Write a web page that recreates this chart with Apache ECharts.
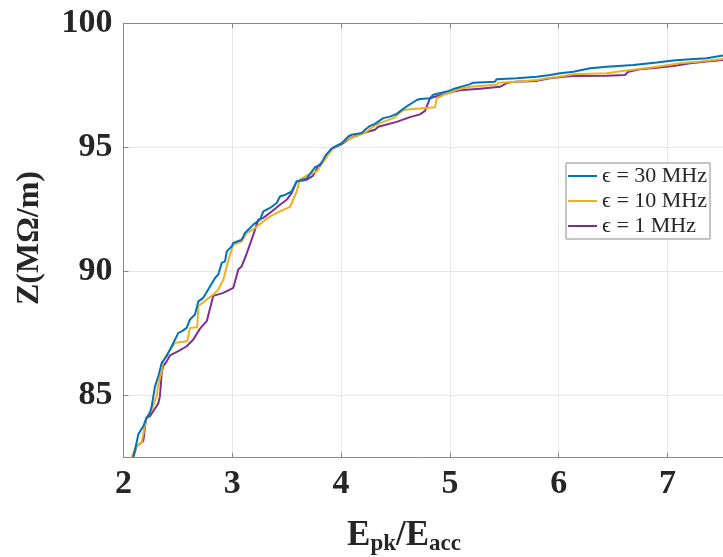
<!DOCTYPE html>
<html>
<head>
<meta charset="utf-8">
<script src="https://cdn.jsdelivr.net/npm/echarts@6/dist/echarts.min.js"></script>
<style>html,body{margin:0;padding:0;background:#fff;}#c{width:723px;height:557px;}</style>
</head>
<body>
<div id="c"></div>
<script>
// ---- data ----
const seriesNames = ['\u03f5 = 30 MHz', '\u03f5 = 10 MHz', '\u03f5 = 1 MHz'];
const xTicks = [2, 3, 4, 5, 6, 7];
const yTicks = [85, 90, 95, 100];

const x30 = [2.090,2.121,2.136,2.182,2.213,2.244,2.259,2.290,2.320,2.351,2.397,2.443,2.504,2.535,2.581,2.611,2.657,2.688,2.733,2.795,2.841,2.871,2.903,2.933,2.949,2.994,3.009,3.086,3.117,3.193,3.255,3.285,3.347,3.408,3.438,3.484,3.546,3.592,3.684,3.760,3.810,3.860,3.920,4.006,4.066,4.097,4.189,4.220,4.266,4.311,4.388,4.449,4.511,4.557,4.603,4.649,4.695,4.725,4.817,4.847,4.971,5.031,5.108,5.185,5.215,5.414,5.430,5.614,5.798,5.920,6.012,6.134,6.288,6.441,6.686,6.901,7.053,7.207,7.360,7.510];
const y30 = [82.53,83.12,83.44,83.77,84.11,84.32,84.57,85.38,85.78,86.32,86.59,86.99,87.53,87.59,87.73,88.07,88.27,88.80,88.94,89.40,89.74,89.88,90.35,90.41,90.81,91.01,91.15,91.28,91.55,91.89,92.09,92.42,92.56,92.76,93.02,93.09,93.23,93.63,93.75,94.20,94.30,94.70,94.98,95.17,95.44,95.51,95.58,95.71,95.87,95.95,96.18,96.24,96.35,96.51,96.65,96.78,96.91,96.95,96.98,97.12,97.25,97.35,97.45,97.55,97.61,97.65,97.75,97.79,97.85,97.92,97.99,98.05,98.19,98.25,98.32,98.42,98.50,98.55,98.59,98.70];

const x10 = [2.075,2.121,2.167,2.198,2.213,2.259,2.305,2.320,2.351,2.366,2.397,2.443,2.473,2.586,2.611,2.678,2.688,2.765,2.825,2.871,2.917,2.949,2.979,3.009,3.086,3.132,3.209,3.285,3.347,3.439,3.531,3.592,3.622,3.700,3.780,3.830,3.880,3.930,4.006,4.051,4.174,4.235,4.296,4.357,4.480,4.572,4.633,4.863,4.879,4.971,5.063,5.185,5.430,5.445,5.614,5.798,5.890,6.042,6.134,6.441,6.533,6.717,6.901,7.115,7.299,7.510];
const y10 = [82.53,82.97,83.11,83.84,84.11,84.44,84.98,85.45,85.99,86.39,86.66,86.93,87.13,87.19,87.73,87.76,88.60,88.87,89.07,89.27,89.67,90.21,90.68,91.08,91.21,91.55,91.75,92.02,92.22,92.42,92.61,93.23,93.70,93.90,94.05,94.40,94.70,94.98,95.17,95.31,95.51,95.64,95.84,95.98,96.18,96.51,96.54,96.62,96.98,97.18,97.32,97.44,97.52,97.61,97.65,97.72,97.79,97.88,97.95,97.99,98.05,98.15,98.25,98.39,98.46,98.56];

const x1 = [2.090,2.121,2.182,2.207,2.244,2.320,2.335,2.351,2.366,2.397,2.427,2.504,2.581,2.642,2.703,2.765,2.825,2.917,3.009,3.055,3.086,3.132,3.193,3.239,3.285,3.362,3.438,3.500,3.546,3.592,3.684,3.740,3.790,3.840,3.900,4.006,4.082,4.204,4.311,4.342,4.511,4.633,4.725,4.771,4.817,4.879,5.031,5.093,5.277,5.460,5.522,5.598,5.798,5.920,6.042,6.134,6.441,6.609,6.640,6.747,6.901,7.053,7.207,7.360,7.510];
const y1 = [82.53,82.96,83.17,84.07,84.18,84.69,84.98,85.92,86.19,86.38,86.62,86.79,86.99,87.26,87.70,88.00,89.02,89.14,89.34,90.08,90.21,90.72,91.48,92.09,92.16,92.42,92.69,92.89,93.17,93.63,93.70,93.85,94.25,94.45,94.90,95.13,95.37,95.58,95.71,95.83,96.03,96.22,96.33,96.47,96.98,97.06,97.25,97.30,97.36,97.44,97.59,97.65,97.68,97.79,97.85,97.88,97.89,97.92,98.05,98.15,98.21,98.28,98.39,98.46,98.52];

const colors = ['#0072BD', '#EDB120', '#7E2F8E'];
// ---- chart ----
const zip = (xs, ys) => xs.map((v, i) => [v, ys[i]]);
const allData = [zip(x30, y30), zip(x10, y10), zip(x1, y1)];
const serif = '"Liberation Serif", "DejaVu Serif", serif';
const chart = echarts.init(document.getElementById('c'), null, {renderer: 'canvas'});
const axisGray = '#8a8a8a';
chart.setOption({
  animation: false,
  backgroundColor: '#fff',
  color: colors,
  grid: {left: 123.5, top: 23.3, right: 0, bottom: 99.3, containLabel: false},
  xAxis: [{
    type: 'value', min: 2, max: 7.51, interval: 1,
    axisLine: {show: true, lineStyle: {color: axisGray, width: 1}},
    axisTick: {show: true, inside: true, length: 5, lineStyle: {color: axisGray}},
    splitLine: {show: true, lineStyle: {color: '#e6e6e6', width: 1}},
    axisLabel: {
      margin: 10, color: '#262626', fontFamily: serif, fontWeight: 'bold', fontSize: 34,
      showMaxLabel: false,
      formatter: v => xTicks.includes(Math.round(v * 1000) / 1000) ? String(v) : ''
    }
  }, {
    type: 'value', position: 'top', min: 2, max: 7.51, interval: 1,
    axisLine: {show: true, onZero: false, lineStyle: {color: axisGray, width: 1}},
    axisTick: {show: true, inside: true, length: 5, lineStyle: {color: axisGray}},
    axisLabel: {show: false}, splitLine: {show: false}
  }],
  yAxis: {
    type: 'value', min: 82.5, max: 100, splitNumber: 4,
    axisLine: {show: true, lineStyle: {color: axisGray, width: 1}},
    axisTick: {show: true, inside: true, length: 5, lineStyle: {color: axisGray}},
    splitLine: {show: true, lineStyle: {color: '#e6e6e6', width: 1}},
    axisLabel: {
      margin: 11, color: '#262626', fontFamily: serif, fontWeight: 'bold', fontSize: 34,
      formatter: v => yTicks.includes(Math.round(v * 1000) / 1000) ? String(v) : ''
    }
  },
  legend: {
    orient: 'vertical', left: 566, top: 163,
    data: seriesNames.map(n => ({name: n, icon: 'rect'})),
    itemWidth: 29, itemHeight: 2, itemGap: 3,
    padding: [2, 3, 2, 2],
    borderColor: '#8c8c8c', borderWidth: 1, backgroundColor: '#fff',
    textStyle: {fontFamily: serif, fontSize: 22, color: '#262626', lineHeight: 22}
  },
  series: seriesNames.map((n, i) => ({
    name: n, type: 'line', data: allData[i], symbol: 'none', showSymbol: false,
    lineStyle: {width: 2, color: colors[i]}, itemStyle: {color: colors[i]},
    clip: true, z: 3 - i
  })),
  graphic: [
    {
      type: 'text', x: 404, y: 536,
      style: {
        text: '{b|E}{s|pk}{b|/E}{s|acc}',
        rich: {
          b: {fontFamily: serif, fontWeight: 'bold', fontSize: 35, lineHeight: 40, fill: '#262626'},
          s: {fontFamily: serif, fontWeight: 'bold', fontSize: 23, lineHeight: 20, verticalAlign: 'bottom', fill: '#262626'}
        },
        textAlign: 'center', textVerticalAlign: 'middle'
      }
    },
    {
      type: 'text', x: 30, y: 238, rotation: Math.PI / 2,
      style: {
        text: 'Z(M\u03a9/m)', fontFamily: serif, fontWeight: 'bold', fontSize: 32,
        fill: '#262626', textAlign: 'center', textVerticalAlign: 'middle'
      }
    }
  ]
});
</script>
</body>
</html>
